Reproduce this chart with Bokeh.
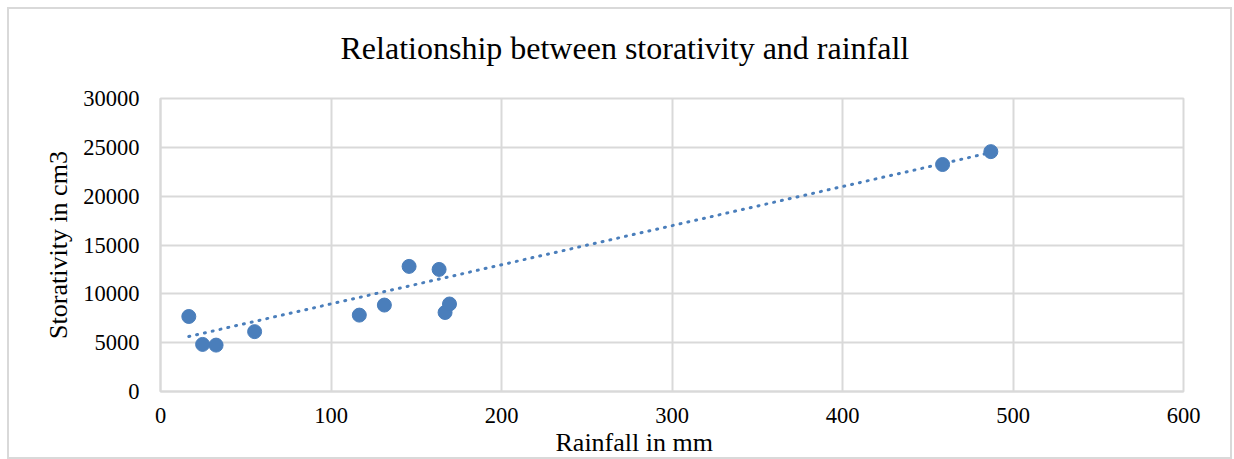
from bokeh.plotting import figure
from bokeh.layouts import column
from bokeh.models import ColumnDataSource, Title, FixedTicker, Range1d
from bokeh.embed import file_html
from bokeh.resources import INLINE

rainfall = [16.6, 24.7, 32.6, 55.2, 116.6, 131.3, 145.8, 163.4, 166.9, 169.5, 458.7, 487.0]
storativity = [7680, 4820, 4750, 6130, 7820, 8850, 12810, 12500, 8090, 8960, 23240, 24560]
# linear trendline as drawn in the source chart (end points)
trend_x = [16.6, 487.0]
trend_y = [5630, 24470]
x_ticks = [0, 100, 200, 300, 400, 500, 600]
y_ticks = [0, 5000, 10000, 15000, 20000, 25000, 30000]
title_text = "Relationship between storativity and rainfall"
x_label = "Rainfall in mm"
y_label = "Storativity in cm3"

BLUE = "#4a7ebb"
GRID = "#d9d9d9"
FONT = "Liberation Serif"

p = figure(width=1221, height=448, output_backend="svg", toolbar_location=None,
           x_range=Range1d(0, 600), y_range=Range1d(0, 30000),
           min_border_left=151, min_border_right=47, min_border_top=89, min_border_bottom=66)

# spacer between the title and the plot area
p.add_layout(Title(text=" ", text_font_size="1px", standoff=30), "above")
p.add_layout(Title(text=title_text, text_font=FONT, text_font_size="32px", text_color="#000000",
                   text_font_style="normal", align="left", offset=180, standoff=0), "above")

xt = Title(text=x_label, text_font=FONT, text_font_size="26px", text_color="#000000",
           text_font_style="normal", align="left", offset=395, standoff=0)
p.add_layout(xt, "below")

p.xaxis.ticker = FixedTicker(ticks=x_ticks)
p.yaxis.ticker = FixedTicker(ticks=y_ticks)
for ax in (p.xaxis[0], p.yaxis[0]):
    ax.major_tick_line_color = None
    ax.minor_tick_line_color = None
    ax.major_tick_out = 0
    ax.major_tick_in = 0
    ax.minor_tick_out = 0
    ax.axis_line_color = GRID
    ax.axis_line_width = 2
    ax.major_label_text_font = FONT
    ax.major_label_text_font_size = "22.5px"
    ax.major_label_text_color = "#000000"
p.xaxis.major_label_standoff = 16
p.yaxis.major_label_standoff = 21
p.yaxis.axis_label = y_label
p.yaxis.axis_label_text_font = FONT
p.yaxis.axis_label_text_font_size = "26px"
p.yaxis.axis_label_text_font_style = "normal"
p.yaxis.axis_label_text_color = "#000000"
p.yaxis.axis_label_standoff = 7

p.xgrid.grid_line_color = GRID
p.ygrid.grid_line_color = GRID
p.xgrid.grid_line_width = 2
p.ygrid.grid_line_width = 2
p.outline_line_color = GRID
p.outline_line_width = 2

p.line(trend_x, trend_y, line_color=BLUE, line_width=3, line_dash="1 7", line_cap="round")

src = ColumnDataSource(dict(x=rainfall, y=storativity))
p.scatter("x", "y", source=src, size=14, fill_color=BLUE, line_color=BLUE, line_width=1)

layout = column(p, styles={"border": "2px solid #d9d9d9", "margin": "7px 0 0 7px"})

open("out.html", "w").write(file_html(layout, INLINE))
